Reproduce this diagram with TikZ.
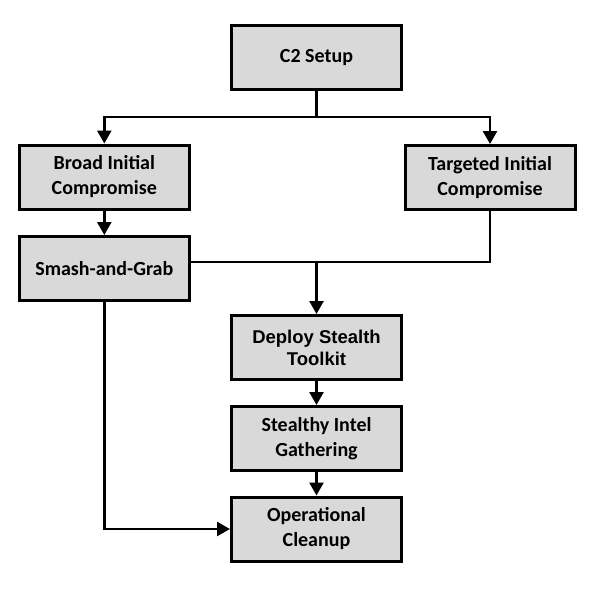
\documentclass[tikz,border=0pt]{standalone}
\usepackage{fontspec}
\setmainfont{Carlito}
\newfontfamily\arialfont{Liberation Sans}
\usetikzlibrary{arrows.meta}
\begin{document}
\begin{tikzpicture}[x=1pt,y=-1pt,
  box/.style={draw=black,line width=3pt,fill=boxgray,minimum width=170pt,minimum height=64pt,
    align=center,inner sep=0pt,font=\fontsize{20}{25}\selectfont\bfseries},
  conn/.style={line width=2.6pt,draw=black},
  arr/.style={conn,-{Triangle[width=14pt,length=13pt]}}]
\definecolor{boxgray}{HTML}{D9D9D9}
\useasboundingbox (0,0) rectangle (609,598);
\node[box] (c2) at (316.5,57.5) {C2 Setup};
\node[box] (broad) at (104.3,177) {Broad Initial\\Compromise};
\node[box] (targeted) at (490,177.5) {Targeted Initial\\Compromise};
\node[box] (smash) at (104.3,268.5) {Smash-and-Grab};
\node[box,font=\arialfont\fontsize{18.5}{22}\selectfont\bfseries] (deploy) at (316.5,347.5) {Deploy Stealth\\Toolkit};
\node[box] (stealthy) at (316.5,438.5) {Stealthy Intel\\Gathering};
\node[box] (oper) at (316.5,529) {Operational\\Cleanup};
\coordinate (j1) at (316.5,117);
\coordinate (j2) at (316.5,262);
\draw[conn] (c2) -- (j1);
\draw[arr] (j1) -| (broad);
\draw[arr] (j1) -| (targeted);
\draw[arr] (broad) -- (smash);
\draw[conn] (targeted.south) |- (j2) -- (smash.east |- j2);
\draw[arr] (j2) -- (deploy);
\draw[arr] (deploy) -- (stealthy);
\draw[arr] (stealthy) -- (oper);
\draw[arr] (smash) |- (oper);
\end{tikzpicture}
\end{document}
